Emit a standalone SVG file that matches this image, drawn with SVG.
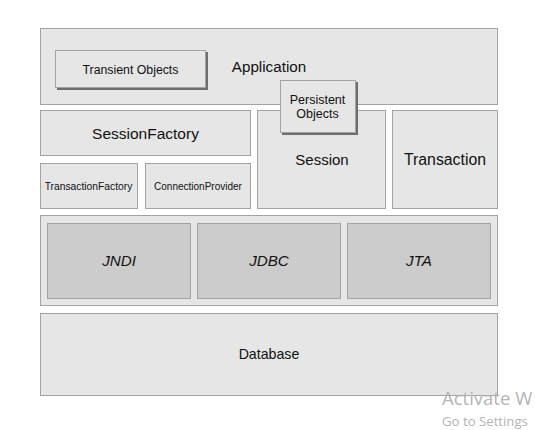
<svg xmlns="http://www.w3.org/2000/svg" width="535" height="430" viewBox="0 0 535 430">
<style>
.box{fill:#e6e6e6;stroke:#a3a3a3;stroke-width:1}
.inner{fill:#cccccc;stroke:#a3a3a3;stroke-width:1}
.shadow{fill:#6e6e6e}
text{font-family:"Liberation Sans",Arial,sans-serif;fill:#111;text-anchor:middle}
.it{font-style:italic}
.wm{font-family:"Open Sans","Noto Sans",sans-serif;fill:#b4b4b4;text-anchor:start}
</style>
<rect width="535" height="430" fill="#ffffff"/>
<g id="application">
<rect class="box" x="40.5" y="28.5" width="457" height="76"/>
<text x="269" y="72" font-size="15.2">Application</text>
</g>
<g id="transient-objects">
<rect class="shadow" x="57" y="52" width="151" height="38"/>
<rect class="box" x="55.5" y="50.5" width="150" height="37"/>
<text x="130.5" y="74" font-size="12.3">Transient Objects</text>
</g>
<g id="session-factory">
<rect class="box" x="40.5" y="110.5" width="210" height="45"/>
<text x="145.5" y="139" font-size="15.5">SessionFactory</text>
</g>
<g id="transaction-factory">
<rect class="box" x="40.5" y="163.5" width="97" height="45"/>
<text x="88.5" y="190" font-size="10.3">TransactionFactory</text>
</g>
<g id="connection-provider">
<rect class="box" x="145.5" y="163.5" width="105" height="45"/>
<text x="198" y="190" font-size="10">ConnectionProvider</text>
</g>
<g id="session">
<rect class="box" x="257.5" y="110.5" width="128" height="98"/>
<text x="322" y="165" font-size="15">Session</text>
</g>
<g id="transaction">
<rect class="box" x="392.5" y="110.5" width="105" height="98"/>
<text x="445" y="165" font-size="15.8">Transaction</text>
</g>
<g id="persistent-objects">
<rect class="shadow" x="282" y="82" width="76" height="53"/>
<rect class="box" x="280.5" y="80.5" width="75" height="52"/>
<text x="317.5" y="104" font-size="12.5">Persistent</text>
<text x="317.5" y="118" font-size="12.5">Objects</text>
</g>
<g id="services">
<rect class="box" x="40.5" y="215.5" width="457" height="90"/>
</g>
<g id="jndi">
<rect class="inner" x="47.5" y="223.5" width="143" height="75"/>
<text class="it" x="119" y="266" font-size="15.2">JNDI</text>
</g>
<g id="jdbc">
<rect class="inner" x="197.5" y="223.5" width="143" height="75"/>
<text class="it" x="269" y="266" font-size="15.2">JDBC</text>
</g>
<g id="jta">
<rect class="inner" x="347.5" y="223.5" width="143" height="75"/>
<text class="it" x="419" y="266" font-size="15.2">JTA</text>
</g>
<g id="database">
<rect class="box" x="40.5" y="313.5" width="457" height="82"/>
<text x="269" y="359" font-size="14.2">Database</text>
</g>
<g id="connectors"></g>
<text class="wm" x="442" y="405" font-size="18.5">Activate W</text>
<text class="wm" x="442" y="426" font-size="13.2">Go to Settings</text>
</svg>
